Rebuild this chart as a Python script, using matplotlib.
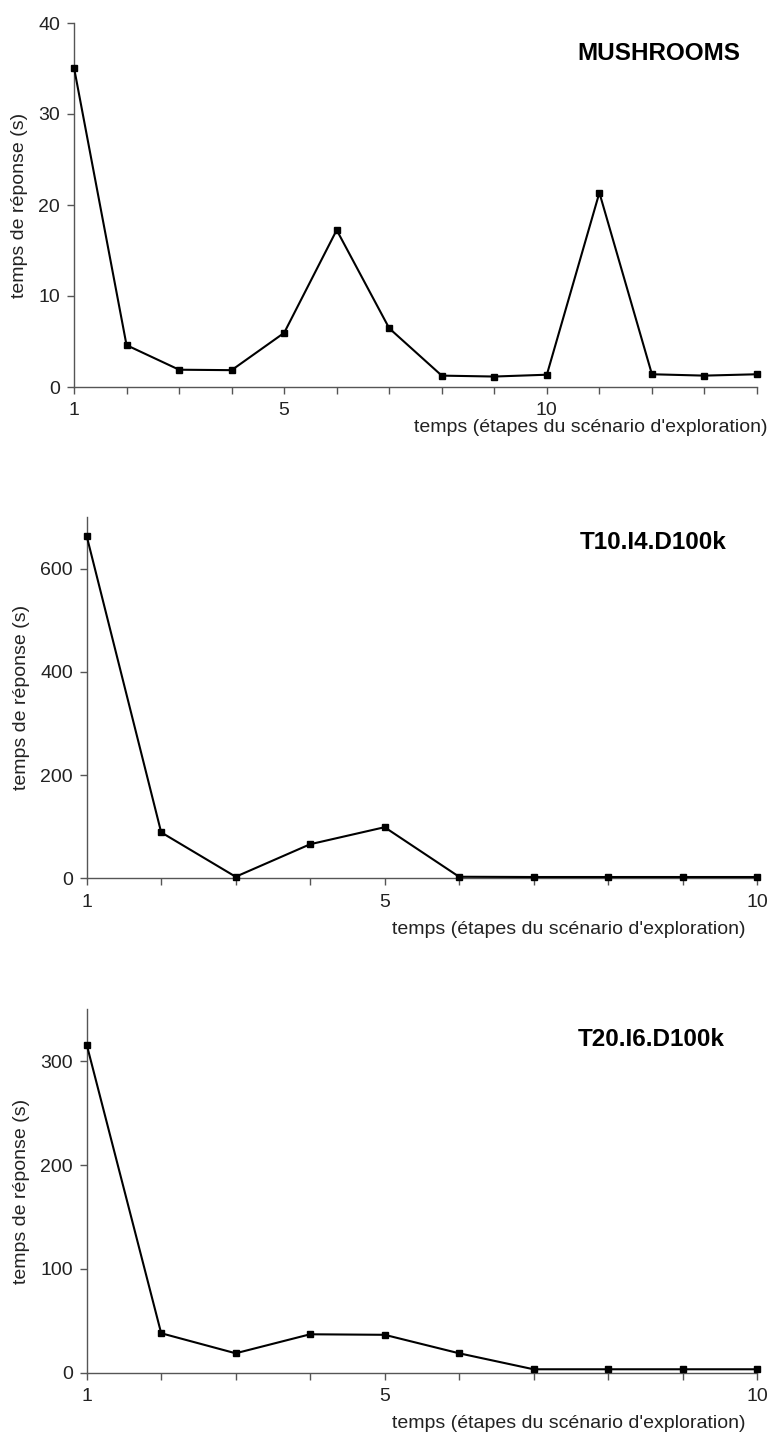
import matplotlib
matplotlib.use("Agg")
import matplotlib.pyplot as plt

plt.rcParams['font.family'] = ['Liberation Sans', 'DejaVu Sans']

# temps de reponse par etape du scenario
etapes_mush = list(range(1, 15))
temps_mush = [35.1, 4.6, 1.9, 1.85, 5.95, 17.25, 6.45, 1.25, 1.15, 1.35, 21.35, 1.4, 1.25, 1.4]

etapes_t10 = list(range(1, 11))
temps_t10 = [663, 89, 3, 66, 99, 3, 2.5, 2.5, 2.5, 2.5]

etapes_t20 = list(range(1, 11))
temps_t20 = [316, 38, 18.7, 37, 36.5, 18.7, 3.3, 3.3, 3.3, 3.3]

titres = ['MUSHROOMS', 'T10.I4.D100k', 'T20.I6.D100k']
y_max = [40, 700, 350]
y_pas = [10, 200, 100]
labels_x = [1, 5, 10]

W, H = 772, 1435
fig = plt.figure(figsize=(W / 100, H / 100), dpi=100)

# positions des axes en pixels: gauche, haut, droite, bas
boites = [(74, 23, 757, 387), (86.7, 517, 757, 878.3), (86.7, 1009.3, 757, 1372.7)]
titre_pos = [(740, 53), (727, 543), (725, 1040)]
xlabel_pos = [(768, 428), (745, 930), (745, 1423)]
ylabel_x = [20, 22, 22]

series = [(etapes_mush, temps_mush), (etapes_t10, temps_t10), (etapes_t20, temps_t20)]
gris = '#555555'

for i, (xs, ys) in enumerate(series):
    l, t, r, b = boites[i]
    ax = fig.add_axes([l / W, 1 - b / H, (r - l) / W, (b - t) / H])
    ax.plot(xs, ys, color='black', linewidth=1.5, marker='s', markersize=4,
            clip_on=False, zorder=3)
    ax.set_xlim(xs[0], xs[-1])
    ax.set_ylim(0, y_max[i])
    ax.set_xticks(xs)
    ax.set_xticklabels([str(x) if x in labels_x else '' for x in xs])
    ax.set_yticks(range(0, y_max[i] + 1, y_pas[i]))
    for s in ['top', 'right']:
        ax.spines[s].set_visible(False)
    for s in ['left', 'bottom']:
        ax.spines[s].set_color(gris)
        ax.spines[s].set_linewidth(1.0)
    ax.tick_params(axis='both', direction='out', length=5, width=1.0,
                   color=gris, labelsize=14, labelcolor='#222222')
    ax.tick_params(axis='x', pad=6)
    ax.tick_params(axis='y', pad=5)

    tx, ty = titre_pos[i]
    fig.text(tx / W, 1 - ty / H, titres[i], ha='right', va='center',
             fontsize=17.5, fontweight='bold')
    lx, ly = xlabel_pos[i]
    fig.text(lx / W, 1 - ly / H, "temps (étapes du scénario d'exploration)",
             ha='right', va='center', fontsize=14, color='#222222')
    fig.text(ylabel_x[i] / W, 1 - (t + b) / 2 / H, 'temps de réponse (s)',
             ha='center', va='center', rotation=90, fontsize=14, color='#222222')

fig.savefig('out.png', dpi=100)
